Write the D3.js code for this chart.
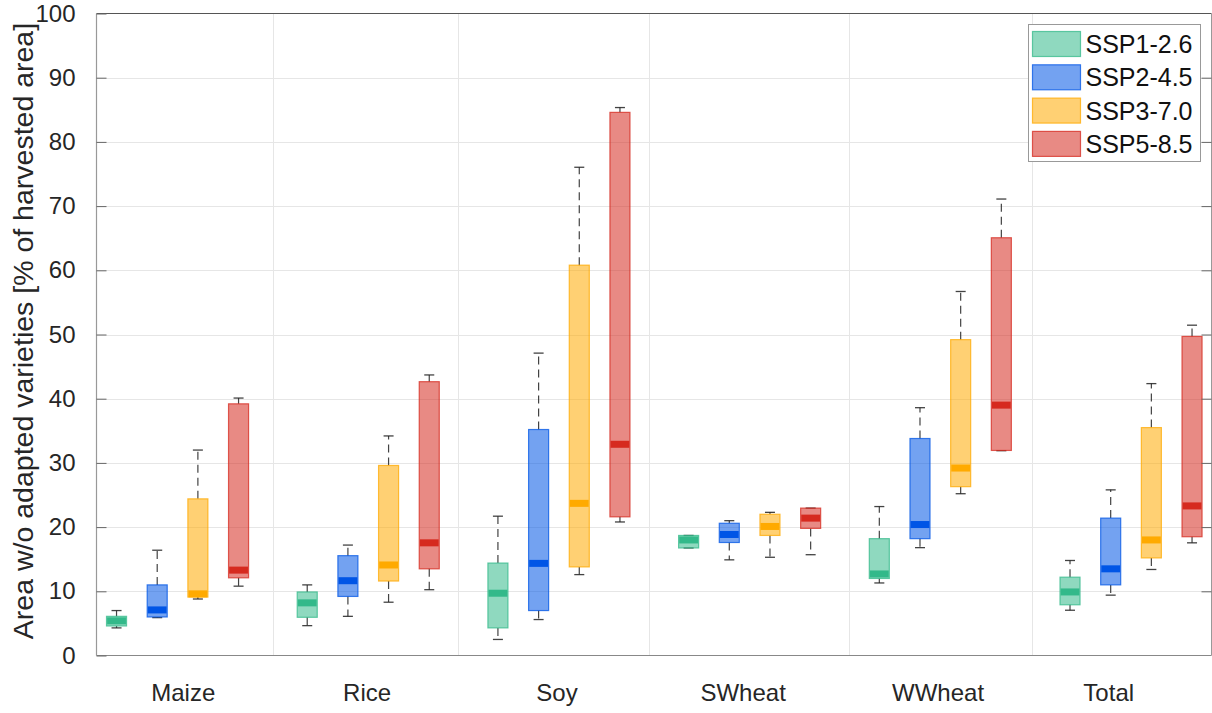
<!DOCTYPE html>
<html>
<head>
<meta charset="utf-8">
<script src="https://cdn.jsdelivr.net/npm/d3@7"></script>
<style>
  html, body { margin: 0; padding: 0; background: #fff; }
  svg { display: block; font-family: "Liberation Sans", Arial, Helvetica, sans-serif; }
</style>
</head>
<body>
<svg id="chart" width="1212" height="713"></svg>
<script>
// Crops and emission scenarios
const categories = ["Maize", "Rice", "Soy", "SWheat", "WWheat", "Total"];
const scenarios = ["SSP1-2.6", "SSP2-4.5", "SSP3-7.0", "SSP5-8.5"];

// Box statistics per crop: [lower whisker, Q1, median, Q3, upper whisker]
const ssp126 = [
  [4.3, 4.6, 5.4, 6.1, 7.0],
  [4.65, 5.95, 8.2, 9.9, 11.0],
  [2.5, 4.3, 9.7, 14.4, 21.7],
  [16.75, 16.75, 18.0, 18.7, 18.7],
  [11.3, 12.0, 12.7, 18.2, 23.2],
  [7.05, 7.9, 9.9, 12.2, 14.8]
];
const ssp245 = [
  [5.9, 6.0, 7.1, 11.0, 16.4],
  [6.1, 9.2, 11.65, 15.55, 17.2],
  [5.6, 7.0, 14.35, 35.2, 47.1],
  [14.9, 17.6, 18.85, 20.6, 21.0],
  [16.8, 18.2, 20.4, 33.8, 38.6],
  [9.4, 11.0, 13.5, 21.4, 25.8]
];
const ssp370 = [
  [8.8, 9.1, 9.6, 24.4, 32.0],
  [8.3, 11.6, 14.1, 29.6, 34.2],
  [12.6, 13.8, 23.7, 60.8, 76.05],
  [15.3, 18.7, 20.1, 22.0, 22.3],
  [25.2, 26.3, 29.2, 49.2, 56.7],
  [13.4, 15.2, 18.0, 35.5, 42.35]
];
const ssp585 = [
  [10.8, 12.1, 13.3, 39.2, 40.1],
  [10.25, 13.5, 17.55, 42.65, 43.7],
  [20.8, 21.6, 32.9, 84.6, 85.35],
  [15.7, 19.8, 21.4, 22.96, 22.96],
  [31.9, 31.94, 39.0, 65.07, 71.1],
  [17.55, 18.5, 23.3, 49.7, 51.45]
];
const seriesValues = [ssp126, ssp245, ssp370, ssp585];
const seriesColors = ["#33b98a", "#0055e6", "#ffaa00", "#d62a1f"];

const yTicks = [0, 10, 20, 30, 40, 50, 60, 70, 80, 90, 100];
// Category axis: separators and label anchors (in category units)
const xGridAt = [1.5, 2.473, 3.47, 4.523, 5.48];
const xLabelAt = [1.03, 1.994, 2.99, 3.966, 4.988, 5.883];

const svg = d3.select("#chart");
const plot = { left: 96.5, right: 1211.5, top: 13.5, bottom: 655.5 };

const x = d3.scaleLinear().domain([0.575, 6.422]).range([plot.left, plot.right]);
const y = d3.scaleLinear().domain([0, 100]).range([plot.bottom, plot.top]);

const groupStep = 0.2133;   // spacing between scenarios within a crop
const boxW = 0.105;         // box width in category units
const pxBoxW = x(boxW) - x(0);

// Grid
const grid = svg.append("g");
grid.selectAll("line.hg").data(yTicks.slice(1, -1)).join("line")
  .attr("x1", plot.left).attr("x2", plot.right)
  .attr("y1", d => Math.round(y(d)) + 0.5).attr("y2", d => Math.round(y(d)) + 0.5)
  .attr("stroke", "#e6e6e6").attr("stroke-width", 1);
grid.selectAll("line.vg").data(xGridAt).join("line")
  .attr("x1", d => Math.round(x(d)) + 0.5).attr("x2", d => Math.round(x(d)) + 0.5)
  .attr("y1", plot.top).attr("y2", plot.bottom)
  .attr("stroke", "#e6e6e6").attr("stroke-width", 1);

// Boxes
const boxes = svg.append("g");
seriesValues.forEach((vals, si) => {
  const col = seriesColors[si];
  const off = (si - 1.5) * groupStep;
  const g = boxes.append("g");
  vals.forEach((v, ci) => {
    const [lo, q1, med, q3, hi] = v;
    const cx = x(ci + 1 + off);
    // whiskers (dashed) with end caps
    [[q3, hi], [q1, lo]].forEach(([a, b]) => {
      if (Math.abs(a - b) > 0.05) {
        g.append("line")
          .attr("x1", cx).attr("x2", cx)
          .attr("y1", y(a)).attr("y2", y(b))
          .attr("stroke", "#222").attr("stroke-opacity", 0.85)
          .attr("stroke-width", 1.2).attr("stroke-dasharray", "8,5");
      }
      g.append("line")
        .attr("x1", cx - pxBoxW / 4).attr("x2", cx + pxBoxW / 4)
        .attr("y1", y(b)).attr("y2", y(b))
        .attr("stroke", "#222").attr("stroke-opacity", 0.85).attr("stroke-width", 1.3);
    });
    // box
    g.append("rect")
      .attr("x", cx - pxBoxW / 2).attr("width", pxBoxW)
      .attr("y", y(q3)).attr("height", y(q1) - y(q3))
      .attr("fill", col).attr("fill-opacity", 0.55)
      .attr("stroke", col).attr("stroke-opacity", 0.75).attr("stroke-width", 1.2);
    // median
    g.append("rect")
      .attr("x", cx - pxBoxW / 2 + 0.6).attr("width", pxBoxW - 1.2)
      .attr("y", y(med) - 3.5).attr("height", 7)
      .attr("fill", col);
  });
});

// Axes frame
const frame = svg.append("g");
frame.append("line").attr("x1", plot.left).attr("x2", plot.right).attr("y1", plot.top).attr("y2", plot.top)
  .attr("stroke", "#555").attr("stroke-width", 1);
frame.append("line").attr("x1", plot.left).attr("x2", plot.right).attr("y1", plot.bottom).attr("y2", plot.bottom)
  .attr("stroke", "#888").attr("stroke-width", 1.2);
frame.append("line").attr("x1", plot.left).attr("x2", plot.left).attr("y1", plot.top).attr("y2", plot.bottom)
  .attr("stroke", "#999").attr("stroke-width", 1.2);
frame.append("line").attr("x1", plot.right).attr("x2", plot.right).attr("y1", plot.top).attr("y2", plot.bottom)
  .attr("stroke", "#999").attr("stroke-width", 1);

// Y axis (ticks pointing inward, on both sides)
const yAxis = d3.axisLeft(y).tickValues(yTicks).tickSize(-10).tickPadding(21).tickFormat(d3.format("d"));
const ya = svg.append("g").attr("transform", `translate(${plot.left},0)`).call(yAxis);
ya.select(".domain").remove();
ya.selectAll(".tick line").attr("stroke", "#666");
ya.selectAll(".tick text").attr("font-size", 24).attr("fill", "#262626")
  .attr("font-family", "Liberation Sans, Arial, sans-serif");

const yAxisR = d3.axisRight(y).tickValues(yTicks.slice(1, -1)).tickSize(-10).tickFormat("");
const yr = svg.append("g").attr("transform", `translate(${plot.right},0)`).call(yAxisR);
yr.select(".domain").remove();
yr.selectAll(".tick line").attr("stroke", "#666");

// Category labels
svg.append("g").selectAll("text").data(categories).join("text")
  .attr("x", (d, i) => x(xLabelAt[i]))
  .attr("y", 701)
  .attr("text-anchor", "middle")
  .attr("font-size", 24)
  .attr("fill", "#262626")
  .text(d => d);

// Y axis title
svg.append("text")
  .attr("transform", "translate(33,331) rotate(-90)")
  .attr("text-anchor", "middle")
  .attr("font-size", 28.5)
  .attr("fill", "#262626")
  .text("Area w/o adapted varieties [% of harvested area]");

// Legend
const lg = svg.append("g").attr("transform", "translate(1028.5,24.5)");
lg.append("rect").attr("width", 172).attr("height", 137)
  .attr("fill", "#fff").attr("stroke", "#999").attr("stroke-width", 1);
scenarios.forEach((s, i) => {
  const row = lg.append("g").attr("transform", `translate(4,${7 + i * 33.3})`);
  row.append("rect").attr("width", 48).attr("height", 25)
    .attr("fill", seriesColors[i]).attr("fill-opacity", 0.55)
    .attr("stroke", seriesColors[i]).attr("stroke-opacity", 0.75).attr("stroke-width", 1.2);
  row.append("text").attr("x", 53).attr("y", 12.5).attr("dy", "0.36em")
    .attr("font-size", 25).attr("fill", "#111").text(s);
});
</script>
</body>
</html>
